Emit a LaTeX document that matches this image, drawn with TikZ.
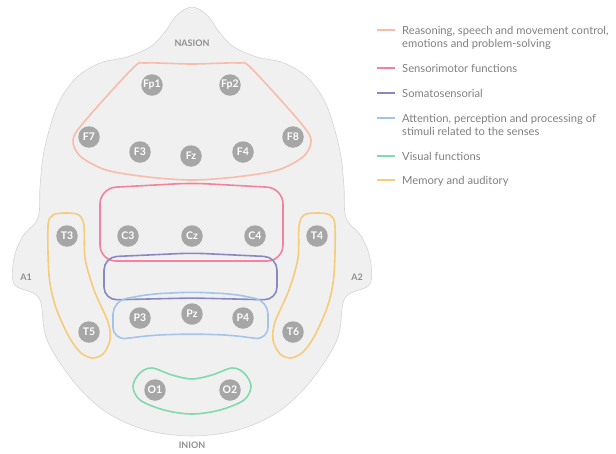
\documentclass[tikz,border=0pt]{standalone}
\usepackage{fontspec}
\setmainfont{Lato}
\usepackage{xcolor}
\usepackage{tikz}
\usetikzlibrary{positioning}
\definecolor{headfill}{HTML}{F0F0F0}
\definecolor{headline}{HTML}{D4D4D4}
\definecolor{electrodegray}{HTML}{A6A6A6}
\definecolor{labelgray}{HTML}{8E8E8E}
\definecolor{legendgray}{HTML}{808080}
\definecolor{frontal}{HTML}{F7BCAA}
\definecolor{sensorimotor}{HTML}{F2829F}
\definecolor{somato}{HTML}{8A88C0}
\definecolor{attention}{HTML}{A2C4EA}
\definecolor{visual}{HTML}{82D9AC}
\definecolor{memory}{HTML}{F6CB7A}
\tikzset{region-line/.style={line width=1.6pt}}
\tikzset{electrode/.style={circle, fill=electrodegray, text=white, inner sep=0, minimum size=21.5pt, font=\fontsize{10.5}{10.5}\selectfont\bfseries}}
\tikzset{landmark/.style={text=labelgray, inner sep=0, font=\fontsize{9}{9}\selectfont\bfseries}}
\tikzset{legend-text/.style={text=legendgray, anchor=base west, align=left, inner sep=0, font=\fontsize{11.2}{13}\selectfont}}
\tikzset{legend-mark/.style={line width=2.5pt}}

\begin{document}
\begin{tikzpicture}[x=1pt, y=-1pt]
            \useasboundingbox (0,0) rectangle (616,453);

            % head
            \draw[fill=headfill, draw=headline, line width=0.6pt] plot[smooth cycle, tension=0.55] coordinates {
                (192,7) (207,15) (220,33) (234,47) (257,57) (284,63) (307,77) (324,100) (334,127) (341,157) (344,187) (346,218)
                (361,236) (370,258) (370,284) (351,293) (343,303)
                (337,340) (310,382) (278,412) (238,430) (192,436) (146,430) (106,412) (74,382) (47,340)
                (41,303) (33,293) (14,284) (14,258) (23,236) (38,218)
                (40,187) (43,157) (50,127) (60,100) (77,77) (100,63) (127,57) (150,47) (164,33) (177,15)};

            % regions
            \draw[region-line, frontal] plot[smooth cycle, tension=0.5] coordinates {
                (192,64) (238,63) (251,68) (300,122) (311,140) (304,156) (278,170) (236,177) (192,180)
                (148,177) (106,170) (80,156) (73,140) (84,122) (133,68) (146,63)};
            \draw[region-line, sensorimotor, rounded corners=16] (100,261) -- (100,188) -- (192,183) -- (283,188) -- (283,261) -- cycle;
            \draw[region-line, somato, rounded corners=13] (104,300) -- (104,257) -- (192,253) -- (277,257) -- (277,300) -- (192,298) -- cycle;
            \draw[region-line, attention, rounded corners=13] (113,340) -- (113,301) -- (150,294) -- (192,292) -- (234,294) -- (268,301) -- (268,340) -- (230,335) -- (192,334) -- (154,335) -- cycle;
            \draw[region-line, visual] plot[smooth cycle, tension=0.55] coordinates {
                (133,386) (140,373) (152,368) (172,375) (192,379) (212,375) (232,368) (244,373) (251,386)
                (244,400) (220,410) (192,414) (164,410) (140,400)};
            \foreach \side/\flip in {0/1, 383/-1}{
                \begin{scope}[xshift=\side, xscale=\flip]
                    \draw[region-line, memory] plot[smooth cycle, tension=0.5] coordinates {
                        (48,226) (53,215) (66,213) (79,215) (84,226) (85,258) (94,290) (108,322) (110,340)
                        (103,354) (92,358) (80,352) (68,335) (55,305) (49,275)};
                \end{scope}
            }

            % landmarks
            \node[landmark] (nasion) at (192,43) {NASION};
            \node[landmark] (inion) at (192,445) {INION};
            \node[landmark] (a1) at (26,277) {A1};
            \node[landmark] (a2) at (357,277) {A2};

            % electrodes
            \node[electrode] (Fp1) at (152,85) {Fp1};
            \node[electrode] (Fp2) at (230,85) {Fp2};
            \node[electrode] (F7) at (89,137) {F7};
            \node[electrode] (F3) at (140,152) {F3};
            \node[electrode] (Fz) at (191,156) {Fz};
            \node[electrode] (F4) at (243,152) {F4};
            \node[electrode] (F8) at (293,137) {F8};
            \node[electrode] (T3) at (67,236) {T3};
            \node[electrode] (C3) at (128,236) {C3};
            \node[electrode] (Cz) at (192,236) {Cz};
            \node[electrode] (C4) at (255,236) {C4};
            \node[electrode] (T4) at (317,236) {T4};
            \node[electrode] (P3) at (140,318) {P3};
            \node[electrode] (Pz) at (192,314) {Pz};
            \node[electrode] (P4) at (243,318) {P4};
            \node[electrode] (T5) at (89,332) {T5};
            \node[electrode] (T6) at (293,332) {T6};
            \node[electrode] (O1) at (155,390) {O1};
            \node[electrode] (O2) at (230,390) {O2};

            % legend
            \draw[legend-mark, frontal] (377,30) -- (395,30);
            \draw[legend-mark, sensorimotor] (377,68) -- (395,68);
            \draw[legend-mark, somato] (377,93) -- (395,93);
            \draw[legend-mark, attention] (377,118) -- (395,118);
            \draw[legend-mark, visual] (377,156) -- (395,156);
            \draw[legend-mark, memory] (377,180) -- (395,180);

            \node[legend-text] (leg-frontal) at (402,47.5) {Reasoning, speech and movement control,\\emotions and problem-solving};
            \node[legend-text] (leg-sensorimotor) at (402,72.5) {Sensorimotor functions};
            \node[legend-text] (leg-somato) at (402,97.5) {Somatosensorial};
            \node[legend-text] (leg-attention) at (402,135.5) {Attention, perception and processing of\\stimuli related to the senses};
            \node[legend-text] (leg-visual) at (402,160.5) {Visual functions};
            \node[legend-text] (leg-memory) at (402,184.5) {Memory and auditory};
        \end{tikzpicture}
\end{document}
